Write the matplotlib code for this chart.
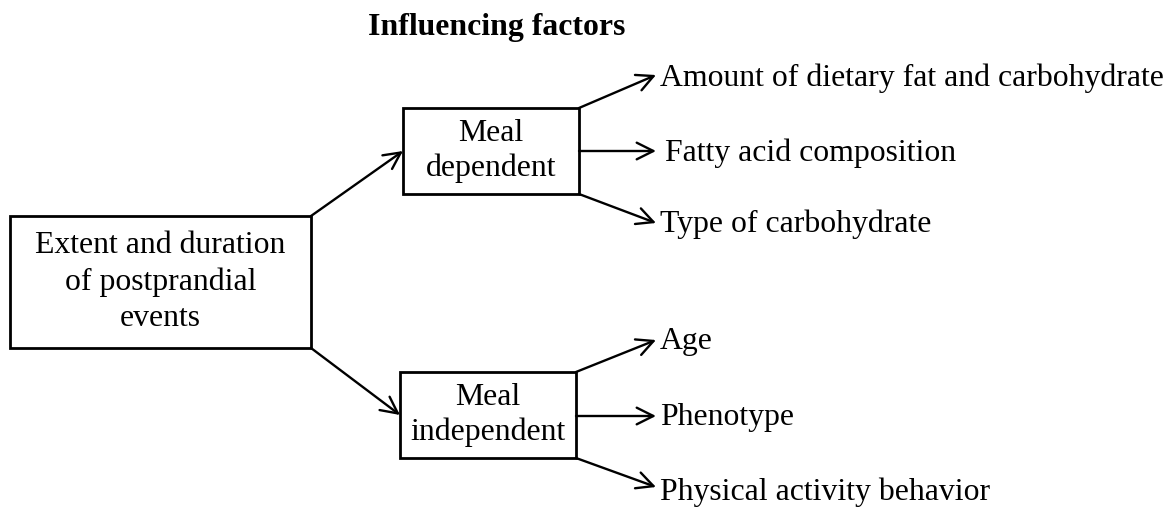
"""Flow diagram: influencing factors of postprandial events"""
import matplotlib.pyplot as plt
from matplotlib.patches import Rectangle

plt.rcParams['font.family'] = ['Liberation Serif', 'DejaVu Serif']

title = "Influencing factors"
root_label = "Extent and duration\nof postprandial\nevents"
group_labels = ["Meal\ndependent", "Meal\nindependent"]
factor_labels = [
    ["Amount of dietary fat and carbohydrate", "Fatty acid composition", "Type of carbohydrate"],
    ["Age", "Phenotype", "Physical activity behavior"],
]

# layout in pixel coordinates (y goes down)
root_box = (10, 216, 301, 132)              # x, y, w, h
group_boxes = [(403, 108, 176, 86), (400, 372, 176, 86)]
tip_y = [[75, 151, 223], [340, 416, 487]]
text_x = [[660, 665, 660], [660, 660, 660]]
text_y = [[78, 153, 224], [342, 417, 492]]

fig = plt.figure(figsize=(11.73, 5.08), dpi=100)
ax = fig.add_axes([0, 0, 1, 1])
ax.set_xlim(0, 1173)
ax.set_ylim(508, 0)
ax.axis("off")

fs = 22.9
arrow_kw = dict(arrowstyle="->", lw=1.7, color="black", mutation_scale=30,
                shrinkA=0, shrinkB=0)

def draw_box(b, label, ls):
    x, y, w, h = b
    ax.add_patch(Rectangle((x, y), w, h, fill=False, lw=2.0, ec="black"))
    ax.text(x + w / 2, y + h / 2, label, ha="center", va="center",
            fontsize=fs, linespacing=ls)

ax.text(497, 27, title, ha="center", va="center", fontsize=fs, fontweight="bold")
draw_box(root_box, root_label, 1.32)

rx, ry, rw, rh = root_box
root_corners = [(rx + rw, ry), (rx + rw, ry + rh)]
for i, (b, label) in enumerate(zip(group_boxes, group_labels)):
    draw_box(b, label, 1.25)
    x, y, w, h = b
    ax.annotate("", xy=(x, y + h / 2), xytext=root_corners[i], arrowprops=arrow_kw)
    starts = [(x + w, y), (x + w, tip_y[i][1]), (x + w, y + h)]
    for j, name in enumerate(factor_labels[i]):
        ax.annotate("", xy=(656, tip_y[i][j]), xytext=starts[j], arrowprops=arrow_kw)
        ax.text(text_x[i][j], text_y[i][j], name, ha="left", va="center", fontsize=fs)

fig.savefig("out.png", dpi=100, facecolor="white")
